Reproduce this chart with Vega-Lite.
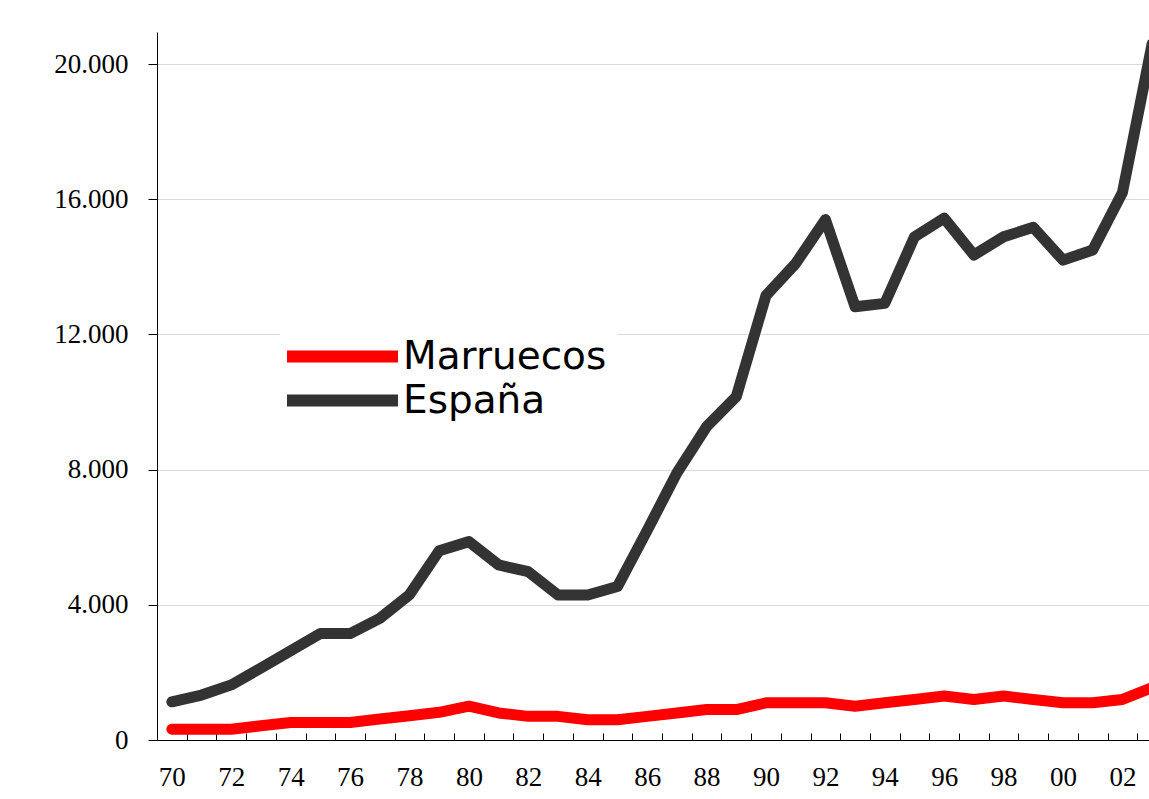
{
  "$schema": "https://vega.github.io/schema/vega-lite/v6.json",
  "width": 1010,
  "height": 708,
  "autosize": {"type": "none"},
  "padding": {"left": 157, "top": 32, "right": 0, "bottom": 59},
  "background": "white",
  "config": {"view": {"stroke": null}},
  "data": {"values": [
    {"year": 1970, "serie": "Marruecos", "value": 320},
    {"year": 1971, "serie": "Marruecos", "value": 320},
    {"year": 1972, "serie": "Marruecos", "value": 320},
    {"year": 1973, "serie": "Marruecos", "value": 420},
    {"year": 1974, "serie": "Marruecos", "value": 520},
    {"year": 1975, "serie": "Marruecos", "value": 520},
    {"year": 1976, "serie": "Marruecos", "value": 520},
    {"year": 1977, "serie": "Marruecos", "value": 620},
    {"year": 1978, "serie": "Marruecos", "value": 720},
    {"year": 1979, "serie": "Marruecos", "value": 820},
    {"year": 1980, "serie": "Marruecos", "value": 1000},
    {"year": 1981, "serie": "Marruecos", "value": 800},
    {"year": 1982, "serie": "Marruecos", "value": 700},
    {"year": 1983, "serie": "Marruecos", "value": 700},
    {"year": 1984, "serie": "Marruecos", "value": 600},
    {"year": 1985, "serie": "Marruecos", "value": 600},
    {"year": 1986, "serie": "Marruecos", "value": 700},
    {"year": 1987, "serie": "Marruecos", "value": 800},
    {"year": 1988, "serie": "Marruecos", "value": 900},
    {"year": 1989, "serie": "Marruecos", "value": 900},
    {"year": 1990, "serie": "Marruecos", "value": 1100},
    {"year": 1991, "serie": "Marruecos", "value": 1100},
    {"year": 1992, "serie": "Marruecos", "value": 1100},
    {"year": 1993, "serie": "Marruecos", "value": 1000},
    {"year": 1994, "serie": "Marruecos", "value": 1100},
    {"year": 1995, "serie": "Marruecos", "value": 1200},
    {"year": 1996, "serie": "Marruecos", "value": 1300},
    {"year": 1997, "serie": "Marruecos", "value": 1200},
    {"year": 1998, "serie": "Marruecos", "value": 1300},
    {"year": 1999, "serie": "Marruecos", "value": 1200},
    {"year": 2000, "serie": "Marruecos", "value": 1100},
    {"year": 2001, "serie": "Marruecos", "value": 1100},
    {"year": 2002, "serie": "Marruecos", "value": 1200},
    {"year": 2003, "serie": "Marruecos", "value": 1550},
    {"year": 1970, "serie": "España", "value": 1130},
    {"year": 1971, "serie": "España", "value": 1330},
    {"year": 1972, "serie": "España", "value": 1630},
    {"year": 1973, "serie": "España", "value": 2130},
    {"year": 1974, "serie": "España", "value": 2640},
    {"year": 1975, "serie": "España", "value": 3150},
    {"year": 1976, "serie": "España", "value": 3150},
    {"year": 1977, "serie": "España", "value": 3600},
    {"year": 1978, "serie": "España", "value": 4300},
    {"year": 1979, "serie": "España", "value": 5600},
    {"year": 1980, "serie": "España", "value": 5870},
    {"year": 1981, "serie": "España", "value": 5180},
    {"year": 1982, "serie": "España", "value": 4980},
    {"year": 1983, "serie": "España", "value": 4290},
    {"year": 1984, "serie": "España", "value": 4290},
    {"year": 1985, "serie": "España", "value": 4540},
    {"year": 1986, "serie": "España", "value": 6200},
    {"year": 1987, "serie": "España", "value": 7900},
    {"year": 1988, "serie": "España", "value": 9270},
    {"year": 1989, "serie": "España", "value": 10160},
    {"year": 1990, "serie": "España", "value": 13150},
    {"year": 1991, "serie": "España", "value": 14100},
    {"year": 1992, "serie": "España", "value": 15400},
    {"year": 1993, "serie": "España", "value": 12820},
    {"year": 1994, "serie": "España", "value": 12920},
    {"year": 1995, "serie": "España", "value": 14890},
    {"year": 1996, "serie": "España", "value": 15440},
    {"year": 1997, "serie": "España", "value": 14350},
    {"year": 1998, "serie": "España", "value": 14890},
    {"year": 1999, "serie": "España", "value": 15170},
    {"year": 2000, "serie": "España", "value": 14200},
    {"year": 2001, "serie": "España", "value": 14500},
    {"year": 2002, "serie": "España", "value": 16200},
    {"year": 2003, "serie": "España", "value": 20600}
  ]},
  "mark": {"type": "line", "strokeWidth": 11, "strokeCap": "round", "strokeJoin": "round"},
  "encoding": {
    "x": {
      "field": "year",
      "type": "ordinal",
      "bandPosition": 0.5,
      "scale": {"type": "band", "paddingInner": 0, "paddingOuter": 0},
      "axis": {
        "title": null,
        "labelExpr": "datum.value % 2 == 0 ? substring(toString(datum.value), 2) : ''",
        "labelAngle": 0,
        "tickBand": "extent",
        "tickSize": -7,
        "tickColor": "#000000",
        "domainColor": "#000000",
        "labelFont": "Liberation Serif",
        "labelFontSize": 27,
        "labelColor": "#000000",
        "labelPadding": 31,
        "grid": false
      }
    },
    "y": {
      "field": "value",
      "type": "quantitative",
      "scale": {"domain": [0, 20950], "nice": false},
      "axis": {
        "title": null,
        "values": [0, 4000, 8000, 12000, 16000, 20000],
        "labelExpr": "replace(format(datum.value, ','), ',', '.')",
        "tickSize": 9,
        "tickColor": "#000000",
        "domainColor": "#000000",
        "labelPadding": 20,
        "labelFont": "Liberation Serif",
        "labelFontSize": 27,
        "labelColor": "#000000",
        "grid": true,
        "gridColor": "#d9d9d9",
        "gridWidth": 1
      }
    },
    "color": {
      "field": "serie",
      "type": "nominal",
      "scale": {"domain": ["Marruecos", "España"], "range": ["#ff0000", "#333333"]},
      "legend": {
        "orient": "none",
        "legendX": 123,
        "legendY": 295,
        "fillColor": "white",
        "padding": 10,
        "title": null,
        "labelFont": "DejaVu Sans",
        "labelFontSize": 39,
        "labelLimit": 400,
        "labelColor": "#000000",
        "symbolType": "M-1.8,0L7.08,0",
        "symbolSize": 625,
        "symbolStrokeWidth": 12,
        "labelOffset": 74,
        "rowPadding": -10
      }
    }
  }
}
